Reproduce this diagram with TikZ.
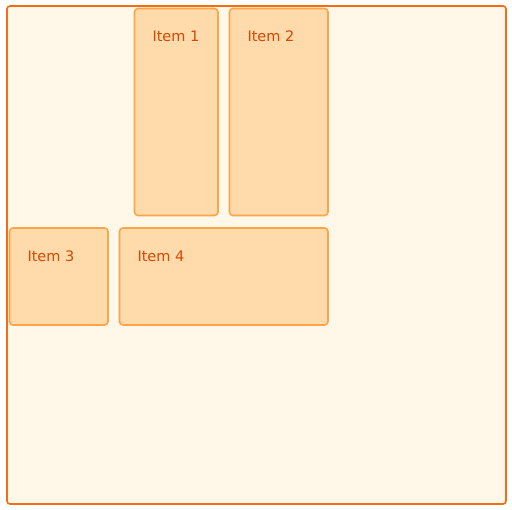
\documentclass[tikz,border=0pt]{standalone}
\usepackage{fontspec}
\setmainfont{DejaVu Sans}
\definecolor{outerfill}{RGB}{255,247,232}
\definecolor{outerline}{RGB}{246,108,16}
\definecolor{itemfill}{RGB}{255,218,170}
\definecolor{itemline}{RGB}{255,164,72}
\definecolor{itemtext}{RGB}{214,72,4}
\begin{document}
\begin{tikzpicture}[x=1pt,y=-1pt,
  outerbox/.style={draw=outerline,fill=outerfill,line width=1.6pt,rounded corners=3pt},
  itembox/.style={draw=itemline,fill=itemfill,line width=1.6pt,rounded corners=3.5pt},
  itemlabel/.style={text=itemtext,font=\fontsize{14.5}{16}\selectfont,anchor=base west,inner sep=0pt}]
\useasboundingbox (0,0) rectangle (512,510);
\draw[outerbox] (7,6) rectangle (506,504);
\draw[itembox] (134.5,8.5) rectangle (218,215.5);
\draw[itembox] (229.5,8.5) rectangle (328,215.5);
\draw[itembox] (9.5,228) rectangle (108,325);
\draw[itembox] (119.5,228) rectangle (328,325);
\node[itemlabel] (t1) at (152.3,41.5) {Item 1};
\node[itemlabel] (t2) at (247.3,41.5) {Item 2};
\node[itemlabel] (t3) at (27.3,261.5) {Item 3};
\node[itemlabel] (t4) at (137.3,261.5) {Item 4};
\end{tikzpicture}
\end{document}
